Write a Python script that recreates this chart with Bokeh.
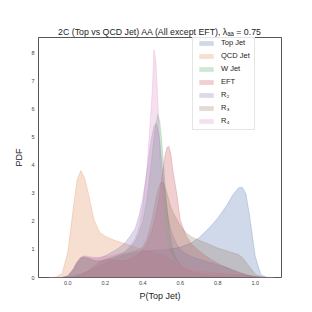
from bokeh.plotting import figure
from bokeh.models import Range1d, FixedTicker, Legend
from bokeh.embed import file_html
from bokeh.resources import INLINE

# shared x grid (read positions)
x_vals = [-0.10, -0.06, -0.03, 0.00, 0.03, 0.05, 0.07, 0.09, 0.11, 0.14, 0.17, 0.20, 0.23, 0.26, 0.30, 0.33,
          0.36, 0.38, 0.40, 0.42, 0.43, 0.44, 0.45, 0.46, 0.47, 0.48, 0.49, 0.50, 0.51, 0.52, 0.53, 0.54,
          0.55, 0.56, 0.58, 0.60, 0.63, 0.66, 0.70, 0.75, 0.80, 0.85, 0.88, 0.91, 0.93, 0.95, 0.97, 1.00,
          1.03, 1.06, 1.10]

top_jet = [0.0, 0.0, 0.0, 0.02, 0.06, 0.10, 0.14, 0.18, 0.24, 0.32, 0.42, 0.52, 0.62, 0.70, 0.80, 0.85,
           0.89, 0.91, 0.93, 0.94, 0.95, 0.95, 0.96, 0.96, 0.97, 0.97, 0.98, 0.98, 0.99, 0.99, 1.00, 1.01,
           1.02, 1.03, 1.05, 1.09, 1.16, 1.24, 1.42, 1.74, 2.12, 2.60, 2.95, 3.20, 3.22, 3.00, 2.20, 0.75,
           0.10, 0.01, 0.0]

qcd_jet = [0.0, 0.02, 0.15, 0.90, 2.50, 3.50, 3.82, 3.55, 3.00, 2.05, 1.62, 1.47, 1.38, 1.30, 1.22, 1.15,
           1.08, 1.04, 1.00, 0.97, 0.95, 0.93, 0.90, 0.88, 0.86, 0.84, 0.82, 0.80, 0.78, 0.75, 0.72, 0.68,
           0.64, 0.60, 0.50, 0.42, 0.33, 0.27, 0.22, 0.18, 0.15, 0.12, 0.10, 0.09, 0.08, 0.07, 0.05, 0.03,
           0.01, 0.0, 0.0]

w_jet = [0.0, 0.0, 0.0, 0.05, 0.25, 0.50, 0.68, 0.70, 0.68, 0.60, 0.58, 0.62, 0.68, 0.75, 0.90, 1.05,
         1.30, 1.60, 2.00, 2.70, 3.20, 3.80, 4.40, 5.00, 5.50, 5.82, 5.60, 5.00, 4.10, 3.20, 2.40, 1.80,
         1.30, 1.00, 0.65, 0.45, 0.30, 0.22, 0.15, 0.10, 0.07, 0.05, 0.04, 0.03, 0.03, 0.02, 0.02, 0.02,
         0.01, 0.0, 0.0]

eft = [0.0, 0.0, 0.0, 0.0, 0.02, 0.05, 0.10, 0.15, 0.25, 0.40, 0.55, 0.63, 0.65, 0.60, 0.60, 0.65,
       0.75, 0.85, 1.00, 1.20, 1.35, 1.50, 1.70, 1.95, 2.25, 2.60, 3.00, 3.50, 3.95, 4.40, 4.65, 4.68,
       4.40, 3.85, 3.05, 2.05, 1.50, 1.20, 0.95, 0.70, 0.50, 0.35, 0.25, 0.18, 0.14, 0.10, 0.07, 0.04,
       0.01, 0.0, 0.0]

r2 = [0.0, 0.0, 0.0, 0.05, 0.30, 0.55, 0.72, 0.75, 0.72, 0.68, 0.70, 0.78, 0.88, 1.00, 1.20, 1.45,
      1.75, 2.20, 2.80, 3.70, 4.20, 4.70, 5.10, 5.40, 5.50, 5.35, 4.90, 4.20, 3.50, 2.90, 2.40, 2.00,
      1.70, 1.50, 1.20, 1.00, 0.85, 0.75, 0.65, 0.55, 0.45, 0.35, 0.28, 0.20, 0.15, 0.10, 0.06, 0.02,
      0.0, 0.0, 0.0]

r3 = [0.0, 0.0, 0.0, 0.05, 0.30, 0.55, 0.70, 0.72, 0.68, 0.60, 0.60, 0.65, 0.72, 0.78, 0.85, 0.90,
      0.95, 1.00, 1.10, 1.35, 1.55, 1.80, 2.10, 2.45, 2.80, 3.10, 3.30, 3.40, 3.38, 3.20, 3.00, 2.75,
      2.50, 2.35, 2.10, 1.85, 1.60, 1.45, 1.33, 1.20, 1.05, 0.95, 0.88, 0.82, 0.72, 0.55, 0.38, 0.12,
      0.03, 0.0, 0.0]

r4 = [0.0, 0.0, 0.0, 0.05, 0.30, 0.55, 0.72, 0.78, 0.75, 0.72, 0.72, 0.75, 0.78, 0.82, 0.90, 1.10,
      1.40, 1.80, 2.50, 3.70, 4.60, 5.60, 6.60, 8.13, 7.70, 6.40, 4.80, 3.30, 2.30, 1.60, 1.20, 0.95,
      0.80, 0.70, 0.55, 0.45, 0.35, 0.28, 0.22, 0.16, 0.12, 0.08, 0.06, 0.05, 0.04, 0.03, 0.02, 0.01,
      0.0, 0.0, 0.0]

labels = ["Top Jet", "QCD Jet", "W Jet", "EFT", "R\u2082", "R\u2083", "R\u2084"]
series = [top_jet, qcd_jet, w_jet, eft, r2, r3, r4]
colors = ["#4C72B0", "#DD8452", "#55A868", "#C44E52", "#8172B3", "#937860", "#DA8BC3"]

x_ticks = [0.0, 0.2, 0.4, 0.6, 0.8, 1.0]
y_ticks = [0, 1, 2, 3, 4, 5, 6, 7, 8]

title_text = "2C (Top vs QCD Jet) AA (All except EFT), \u03bb\u2090\u2090 = 0.75"

FONT = "Liberation Sans"

p = figure(width=305, height=305, output_backend="svg", toolbar_location=None,
           x_range=Range1d(-0.156, 1.14), y_range=Range1d(0, 8.57),
           min_border_left=38, min_border_right=24, min_border_top=37, min_border_bottom=28,
           title=title_text)

p.title.align = "center"
p.title.text_font = FONT
p.title.text_font_size = "8.8px"
p.title.text_font_style = "normal"
p.title.text_color = "#222222"
p.title.standoff = 2

p.grid.visible = False
p.outline_line_color = "#555555"
p.outline_line_width = 1
p.background_fill_color = "white"
p.border_fill_color = "white"

renderers = []
for lab, ys, col in zip(labels, series, colors):
    r = p.varea(x=x_vals, y1=[0] * len(ys), y2=ys, fill_color=col, fill_alpha=0.27)
    p.line(x=x_vals, y=ys, line_color=col, line_alpha=0.3, line_width=0.8)
    renderers.append((lab, [r]))

legend = Legend(items=renderers, location=(154, 147))
legend.label_text_font = FONT
legend.label_text_font_size = "7.5px"
legend.label_text_color = "#222222"
legend.label_height = 8
legend.glyph_height = 6
legend.glyph_width = 18
legend.spacing = 4
legend.padding = 4
legend.label_standoff = 6
legend.border_line_color = "#cccccc"
legend.border_line_width = 1
legend.background_fill_alpha = 0.85
p.add_layout(legend, "center")

for ax in (p.xaxis[0], p.yaxis[0]):
    ax.axis_line_color = None
    ax.major_tick_line_color = None
    ax.minor_tick_line_color = None
    ax.major_tick_in = 0
    ax.major_tick_out = 0
    ax.minor_tick_in = 0
    ax.minor_tick_out = 0
    ax.major_label_text_font = FONT
    ax.major_label_text_font_size = "5.5px"
    ax.major_label_text_color = "#444444"
    ax.axis_label_text_font = FONT
    ax.axis_label_text_font_size = "9px"
    ax.axis_label_text_font_style = "normal"
    ax.axis_label_text_color = "#222222"

p.xaxis.ticker = FixedTicker(ticks=x_ticks)
p.xaxis.major_label_overrides = {t: f"{t:.1f}" for t in x_ticks}
p.yaxis.ticker = FixedTicker(ticks=y_ticks)
p.xaxis.axis_label = "P(Top Jet)"
p.yaxis.axis_label = "PDF"
p.xaxis.major_label_standoff = 3
p.xaxis.axis_label_standoff = 3
p.yaxis.major_label_standoff = 4
p.yaxis.axis_label_standoff = 4

open("out.html", "w").write(file_html(p, INLINE))
